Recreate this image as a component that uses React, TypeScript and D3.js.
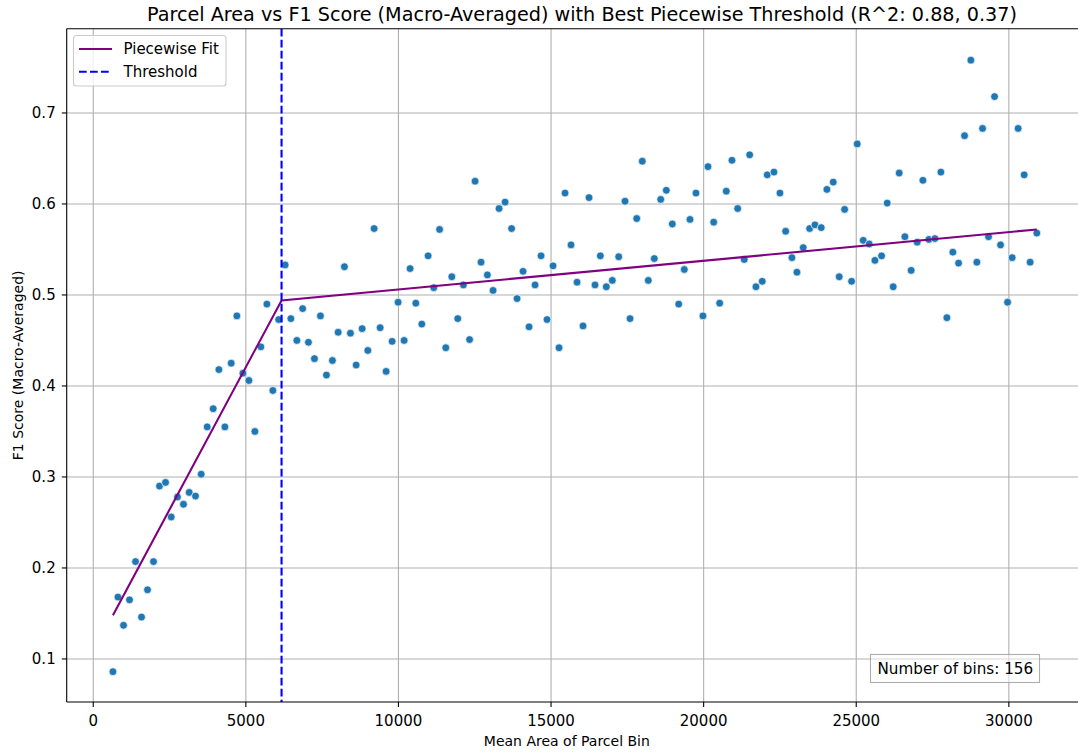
import React from "react";
import * as d3 from "d3";

const xValues: number[] = [
  645, 809, 992, 1189, 1385, 1582, 1778, 1975, 2171, 2368,
  2555, 2761, 2957, 3144, 3350, 3537, 3734, 3930, 4117, 4313,
  4520, 4706, 4903, 5099, 5296, 5492, 5689, 5885, 6075, 6288,
  6475, 6671, 6861, 7051, 7248, 7444, 7641, 7837, 8024, 8230,
  8427, 8614, 8810, 8997, 9203, 9400, 9596, 9793, 9989, 10186,
  10382, 10569, 10765, 10972, 11158, 11348, 11551, 11748, 11944, 12128,
  12331, 12511, 12707, 12914, 13100, 13297, 13494, 13707, 13887, 14083,
  14280, 14476, 14673, 14869, 15066, 15262, 15459, 15655, 15852, 16048,
  16245, 16441, 16615, 16811, 17008, 17217, 17424, 17588, 17807, 17990,
  18187, 18383, 18593, 18777, 18973, 19183, 19366, 19553, 19749, 19978,
  20142, 20329, 20525, 20742, 20928, 21115, 21331, 21508, 21714, 21920,
  22084, 22304, 22500, 22687, 22893, 23057, 23263, 23473, 23647, 23853,
  24039, 24246, 24442, 24619, 24848, 25032, 25229, 25425, 25612, 25831,
  26014, 26211, 26407, 26594, 26800, 26997, 27184, 27380, 27577, 27773,
  27970, 28166, 28353, 28549, 28756, 28952, 29139, 29335, 29532, 29728,
  29958, 30109, 30305, 30502, 30698, 30917,
];

const f1Values: number[] = [
  0.086, 0.168, 0.137, 0.165, 0.207, 0.146, 0.176, 0.207, 0.290, 0.294,
  0.256, 0.278, 0.270, 0.283, 0.279, 0.303, 0.355, 0.375, 0.418, 0.355,
  0.425, 0.477, 0.414, 0.406, 0.350, 0.443, 0.490, 0.395, 0.473, 0.533,
  0.474, 0.450, 0.485, 0.448, 0.430, 0.477, 0.412, 0.428, 0.459, 0.531,
  0.458, 0.423, 0.463, 0.439, 0.573, 0.464, 0.416, 0.449, 0.492, 0.450,
  0.529, 0.491, 0.468, 0.543, 0.508, 0.572, 0.442, 0.520, 0.474, 0.511,
  0.451, 0.625, 0.536, 0.522, 0.505, 0.595, 0.602, 0.573, 0.496, 0.526,
  0.465, 0.511, 0.543, 0.473, 0.532, 0.442, 0.612, 0.555, 0.514, 0.466,
  0.607, 0.511, 0.543, 0.509, 0.516, 0.542, 0.603, 0.474, 0.584, 0.647,
  0.516, 0.540, 0.605, 0.615, 0.578, 0.490, 0.528, 0.583, 0.612, 0.477,
  0.641, 0.580, 0.491, 0.614, 0.648, 0.595, 0.539, 0.654, 0.509, 0.515,
  0.632, 0.635, 0.612, 0.570, 0.541, 0.525, 0.552, 0.573, 0.577, 0.574,
  0.616, 0.624, 0.520, 0.594, 0.515, 0.666, 0.560, 0.556, 0.538, 0.543,
  0.601, 0.509, 0.634, 0.564, 0.527, 0.558, 0.626, 0.561, 0.562, 0.635,
  0.475, 0.547, 0.535, 0.675, 0.758, 0.536, 0.683, 0.564, 0.718, 0.555,
  0.492, 0.541, 0.683, 0.632, 0.536, 0.568,
];

const fitX: number[] = [645, 6170, 30917];
const fitY: number[] = [0.148, 0.494, 0.572];
const thresholdX = 6170;
const binCount = 156;

const xTicks: number[] = [0, 5000, 10000, 15000, 20000, 25000, 30000];
const yTicks: number[] = [0.1, 0.2, 0.3, 0.4, 0.5, 0.6, 0.7];

const W = 1078;
const H = 753;
const left = 66.7;
const right = 1083;
const top = 28.7;
const bottom = 702;
const FONT = "'DejaVu Sans', sans-serif";

export default function App() {
  const x = d3.scaleLinear().domain([-870, 32430]).range([left, right]);
  const y = d3.scaleLinear().domain([0.0527, 0.7926]).range([bottom, top]);
  const points = xValues.map((v, i) => ({ x: v, y: f1Values[i] }));
  const fit = fitX.map((v, i) => [v, fitY[i]] as [number, number]);
  const lineGen = d3
    .line<[number, number]>()
    .x((d) => x(d[0]))
    .y((d) => y(d[1]));
  const clipId = "plotclip";

  return (
    <svg
      width={W}
      height={H}
      style={{ position: "absolute", left: 0, top: 0, display: "block", background: "#fff" }}
      fontFamily={FONT}
    >
      <defs>
        <clipPath id={clipId}>
          <rect x={left} y={top} width={right - left} height={bottom - top} />
        </clipPath>
      </defs>
      <rect x={0} y={0} width={W} height={H} fill="#fff" />
      {/* grid */}
      <g stroke="#b0b0b0" strokeWidth={1.1}>
        {xTicks.map((t) => (
          <line key={"gx" + t} x1={x(t)} x2={x(t)} y1={top} y2={bottom} />
        ))}
        {yTicks.map((t) => (
          <line key={"gy" + t} x1={left} x2={right} y1={y(t)} y2={y(t)} />
        ))}
      </g>
      <g clipPath={`url(#${clipId})`}>
        {points.map((p, i) => (
          <circle
            key={i}
            cx={x(p.x)}
            cy={y(p.y)}
            r={3.9}
            fill="#1f77b4"
            stroke="#ffffff"
            strokeWidth={0.7}
          />
        ))}
        <path d={lineGen(fit) || ""} fill="none" stroke="#800080" strokeWidth={2.1} />
        <line
          x1={x(thresholdX)}
          x2={x(thresholdX)}
          y1={top}
          y2={bottom}
          stroke="#0000ff"
          strokeWidth={2.1}
          strokeDasharray="7.7,3.3"
        />
      </g>
      {/* spines */}
      <g stroke="#000" strokeWidth={1.1} fill="none">
        <line x1={left} x2={left} y1={top} y2={bottom} />
        <line x1={left} x2={right} y1={bottom} y2={bottom} />
        <line x1={left} x2={right} y1={top} y2={top} />
        <line x1={right} x2={right} y1={top} y2={bottom} />
      </g>
      {/* x ticks */}
      {xTicks.map((t) => (
        <g key={"xt" + t}>
          <line x1={x(t)} x2={x(t)} y1={bottom} y2={bottom + 4.9} stroke="#000" strokeWidth={1.1} />
          <text x={x(t)} y={bottom + 24} textAnchor="middle" fontSize={15} fill="#000">
            {t}
          </text>
        </g>
      ))}
      {/* y ticks */}
      {yTicks.map((t) => (
        <g key={"yt" + t}>
          <line x1={left - 4.9} x2={left} y1={y(t)} y2={y(t)} stroke="#000" strokeWidth={1.1} />
          <text x={left - 11} y={y(t) + 5.4} textAnchor="end" fontSize={15} fill="#000">
            {t.toFixed(1)}
          </text>
        </g>
      ))}
      <text x={(left + right) / 2 - 8} y={746} textAnchor="middle" fontSize={14} fill="#000">
        Mean Area of Parcel Bin
      </text>
      <text
        transform={`translate(23, ${(top + bottom) / 2}) rotate(-90)`}
        textAnchor="middle"
        fontSize={14}
        fill="#000"
      >
        F1 Score (Macro-Averaged)
      </text>
      <text x={582} y={21} textAnchor="middle" fontSize={19.2} fill="#000">
        Parcel Area vs F1 Score (Macro-Averaged) with Best Piecewise Threshold (R^2: 0.88, 0.37)
      </text>
      {/* legend */}
      <g>
        <rect x={73.5} y={35.5} width={152.5} height={50.5} rx={3} fill="#fff" fillOpacity={0.8} stroke="#cccccc" strokeWidth={1.1} />
        <line x1={79} x2={112} y1={49} y2={49} stroke="#800080" strokeWidth={2.1} />
        <line x1={79} x2={112} y1={71.7} y2={71.7} stroke="#0000ff" strokeWidth={2.1} strokeDasharray="7.7,3.3" />
        <text x={123.5} y={54.3} fontSize={15} fill="#000">Piecewise Fit</text>
        <text x={123.5} y={77} fontSize={15} fill="#000">Threshold</text>
      </g>
      {/* bins box */}
      <g>
        <rect x={870.5} y={654.5} width={169} height={28} fill="#fff" fillOpacity={0.5} stroke="#999" strokeOpacity={0.8} strokeWidth={1.1} />
        <text x={877.5} y={674} fontSize={15.2} fill="#000">{`Number of bins: ${binCount}`}</text>
      </g>
    </svg>
  );
}
